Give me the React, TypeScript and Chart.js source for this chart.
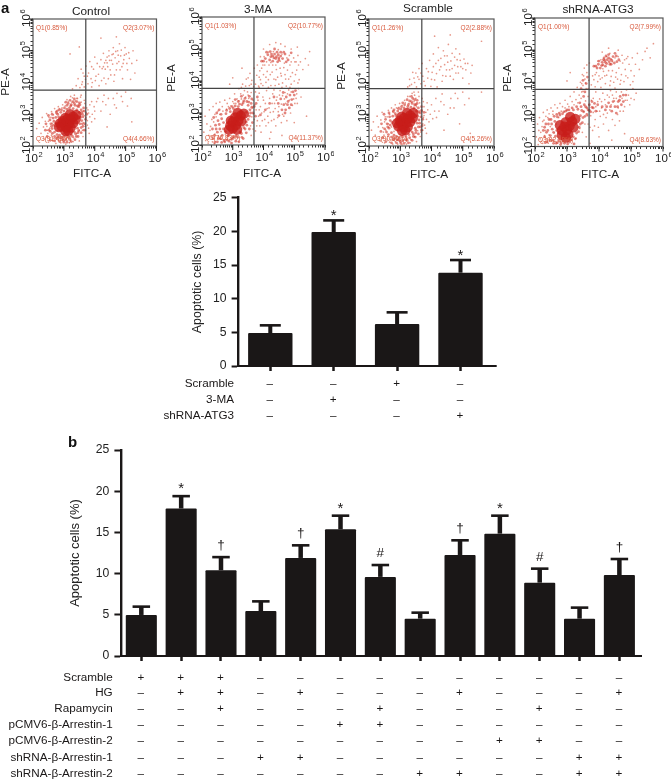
import React, { useEffect, useRef } from "react";
import { Chart, registerables } from "chart.js";

Chart.register(...registerables);

type Pt = [number, number];

// Flow cytometry events, read by eye as log10 decades [FITC-A, PE-A].
const controlCore: Pt[] = [[2.92,2.62],[3.0,2.72],[3.08,2.58],[3.16,2.7],[3.22,2.84],[3.3,2.92],[3.12,2.86],[3.04,2.88],[2.96,2.78],[3.22,2.58],[3.3,2.72],[3.38,2.84],[3.14,2.48],[2.88,2.72],[3.4,2.98],[3.2,3.0],[3.05,2.47],[2.84,2.6]];
const controlDense: Pt[] = [[2.62,2.55],[2.68,2.78],[2.7,2.44],[2.74,2.9],[2.66,2.66],[2.78,2.36],[2.8,3.0],[2.86,2.34],[2.9,3.06],[2.94,2.28],[3.0,3.1],[3.02,2.3],[3.1,3.16],[3.12,2.3],[3.18,3.2],[3.24,2.36],[3.3,3.18],[3.34,2.44],[3.42,3.14],[3.44,2.56],[3.5,3.06],[3.52,2.7],[3.54,2.9],[3.48,3.24],[3.58,2.8],[3.56,3.14],[3.36,3.28],[3.46,2.42],[3.6,3.0],[3.24,3.3],[2.58,2.7],[2.56,2.46],[2.76,2.24],[2.98,2.18],[3.2,2.2],[3.4,2.3],[3.62,2.62],[3.64,3.2],[3.5,3.36],[3.3,3.4],[3.14,3.34],[2.84,3.14]];
const controlHalo: Pt[] = [[2.52,2.5],[2.55,2.82],[2.6,2.62],[2.63,2.4],[2.65,2.88],[2.7,2.3],[2.73,2.72],[2.76,3.04],[2.8,2.28],[2.83,2.92],[2.87,2.26],[2.92,3.14],[2.96,2.22],[3.02,3.2],[3.06,2.2],[3.1,3.28],[3.16,2.26],[3.22,3.26],[3.28,2.3],[3.34,3.34],[3.38,2.38],[3.44,3.26],[3.48,2.48],[3.52,3.3],[3.56,2.58],[3.58,3.06],[3.6,2.7],[3.62,2.92],[3.66,3.1],[3.68,2.7],[3.7,2.84],[3.74,3.0],[2.4,2.5],[2.42,2.7],[2.46,2.3],[2.5,2.96],[2.56,2.18],[2.62,3.0],[2.7,2.16],[2.78,3.1],[2.86,2.14],[3.0,2.12],[3.1,2.12],[3.24,2.14],[3.36,2.2],[3.46,2.3],[3.56,2.42],[3.66,2.5],[3.42,3.4],[3.34,3.48],[3.2,3.44],[3.06,3.38]];
const controlSparse: Pt[] = [[2.12,2.55],[2.2,2.72],[2.26,2.4],[2.3,2.9],[2.34,2.6],[2.38,2.22],[2.4,2.78],[2.44,3.02],[2.46,2.5],[2.5,2.12],[2.52,2.9],[2.56,2.26],[2.6,3.08],[2.64,2.16],[2.7,3.18],[2.74,2.08],[2.82,3.24],[2.9,2.1],[2.96,3.3],[3.06,2.06],[3.1,3.46],[3.18,2.1],[3.22,3.56],[3.3,2.14],[3.34,3.6],[3.42,3.5],[3.5,2.16],[3.56,3.6],[3.62,2.3],[3.66,3.44],[3.7,2.5],[3.72,2.9],[3.74,3.2],[3.76,2.66],[3.8,3.04],[3.82,2.4],[3.84,3.3],[3.9,2.76],[3.92,3.0],[3.98,3.24],[4.0,2.86],[4.1,3.5],[4.2,3.1],[4.3,3.6],[4.36,3.3],[4.5,3.0],[4.6,3.5],[4.7,3.2],[4.72,3.66],[4.9,3.4],[5.0,3.7],[5.18,3.5],[5.2,2.76],[4.4,2.6],[3.28,3.8],[3.4,3.9],[3.46,4.12],[3.52,3.84],[3.6,4.02],[3.62,4.3],[3.66,3.86],[3.56,4.42],[3.7,4.1],[3.72,4.52],[3.78,3.96],[3.8,4.3],[3.84,4.66],[3.88,4.12],[3.9,3.86],[3.96,4.42],[4.0,4.8],[4.02,4.06],[4.08,4.6],[4.12,4.26],[4.14,3.9],[4.2,4.72],[4.24,4.44],[4.28,4.92],[4.3,4.14],[4.32,4.62],[4.36,3.96],[4.4,4.8],[4.42,4.5],[4.46,5.0],[4.48,4.7],[4.52,4.24],[4.56,4.88],[4.58,4.58],[4.6,5.1],[4.62,4.04],[4.66,4.78],[4.7,4.4],[4.74,5.0],[4.78,4.66],[4.8,5.22],[4.84,4.84],[4.88,4.5],[4.9,4.12],[4.94,4.72],[4.98,5.1],[5.02,4.9],[5.06,4.4],[5.12,4.76],[5.16,4.1],[5.2,4.6],[5.24,5.0],[5.3,4.3],[5.36,4.7],[4.2,5.4],[4.7,5.44],[3.2,4.9],[3.5,5.12]];
const controlExtra: Pt[] = [[2.45,2.62],[2.48,2.4],[2.5,2.78],[2.54,2.56],[2.58,2.9],[2.6,2.34],[2.62,2.72],[2.66,2.98],[2.68,2.24],[2.72,2.62],[2.74,3.08],[2.78,2.48],[2.82,2.18],[2.86,3.18],[2.9,2.24],[2.94,3.2],[2.98,2.38],[3.04,3.26],[3.08,2.24],[3.14,3.4],[3.2,2.3],[3.26,3.38],[3.32,2.26],[3.38,3.42],[3.42,2.4],[3.48,3.3],[3.5,2.5],[3.56,3.38],[3.6,2.5],[3.62,3.1],[3.64,2.74],[3.66,2.96],[3.68,3.34],[3.7,2.62],[3.72,3.06],[3.76,2.8],[3.78,3.14],[3.8,2.56],[3.84,2.92],[3.44,3.5],[3.54,3.54],[3.28,3.52],[3.9,4.5],[4.04,4.2],[4.16,4.5],[4.22,4.06],[4.34,4.42],[4.4,4.62],[4.44,4.12],[4.5,4.4],[4.54,4.7],[4.6,4.9],[4.64,4.24],[4.68,4.98],[4.72,4.6],[4.76,4.86],[4.82,4.4],[4.86,5.02],[4.92,4.6],[4.96,4.86],[5.04,4.6],[5.1,4.94],[4.46,4.84],[4.36,4.7],[4.28,4.5],[3.92,4.0],[3.76,4.2],[3.58,3.94],[3.66,4.2],[4.06,3.4],[4.26,3.4],[4.44,3.5],[4.64,3.3],[4.86,3.56],[5.06,3.26],[4.0,3.1],[3.9,3.4]];

const maCore: Pt[] = [[2.92,2.6],[3.0,2.72],[3.1,2.62],[3.18,2.76],[3.26,2.92],[3.08,2.86],[3.0,2.52],[3.28,2.74],[3.36,2.98],[3.16,3.0],[3.14,2.48],[2.88,2.48],[2.94,2.76]];
const maDense: Pt[] = [[2.5,2.4],[2.56,2.64],[2.6,2.2],[2.64,2.82],[2.7,2.5],[2.72,2.14],[2.78,2.98],[2.84,2.28],[2.88,2.12],[2.92,3.04],[3.0,2.22],[3.02,3.14],[3.12,2.3],[3.18,3.2],[3.24,2.4],[3.3,3.26],[3.36,2.54],[3.44,2.72],[3.5,3.24],[3.54,2.9],[3.56,3.1],[3.46,3.36],[3.36,3.38],[2.44,2.62],[2.5,2.1],[3.1,2.12],[3.3,2.24],[3.6,3.3],[4.06,4.7],[4.14,4.82],[4.2,4.66],[4.22,4.92],[4.3,4.62],[4.36,5.0],[4.46,4.6],[4.56,4.9],[4.62,4.7],[4.7,4.84],[4.8,4.66],[3.94,4.62],[4.74,3.5],[4.8,3.36],[4.66,3.26],[4.86,3.56],[4.92,3.42],[4.6,3.1],[4.56,3.44],[4.96,3.66],[5.0,3.56],[4.72,3.1],[4.5,2.92],[4.84,3.16],[4.3,4.78],[4.36,4.84],[4.42,4.76],[4.48,4.82],[4.4,4.7],[4.34,4.72],[4.5,4.72],[4.26,4.84],[4.44,4.9],[4.56,4.78]];
const maHalo: Pt[] = [[2.4,2.3],[2.46,2.5],[2.52,2.76],[2.54,2.2],[2.58,2.5],[2.62,2.96],[2.66,2.3],[2.7,2.7],[2.74,2.1],[2.76,2.42],[2.8,3.08],[2.82,2.16],[2.86,2.3],[2.9,3.14],[2.96,2.18],[2.98,3.2],[3.04,2.26],[3.08,3.22],[3.16,2.24],[3.22,3.28],[3.28,2.36],[3.34,3.32],[3.4,2.5],[3.44,3.02],[3.46,2.62],[3.5,2.8],[3.52,3.34],[3.58,3.0],[3.62,3.18],[3.64,2.7],[3.66,3.0],[3.7,3.2],[2.34,2.5],[2.36,2.2],[2.42,2.08],[2.38,2.86],[2.48,3.0],[2.56,3.1],[2.64,2.08],[2.96,2.06],[3.2,2.1],[3.34,2.2],[3.44,2.38],[3.54,2.5],[3.4,3.46],[3.28,3.52],[3.18,3.36],[3.08,3.42],[3.54,3.52],[3.62,3.44],[3.76,3.3],[3.8,3.5],[3.74,2.9],[3.9,2.94],[4.06,3.1],[4.2,3.3],[4.34,3.5],[4.48,3.3],[4.7,3.0],[4.78,3.26],[4.64,3.64],[4.9,3.26],[5.04,3.7],[4.1,4.9],[4.24,4.76],[4.5,4.66],[4.66,4.9],[4.74,4.6],[4.9,4.88],[4.0,4.62]];
const maSparse: Pt[] = [[2.06,2.4],[2.1,2.9],[2.12,2.14],[2.16,2.66],[2.2,2.06],[2.24,3.1],[2.26,2.46],[2.3,2.26],[2.32,2.8],[2.36,3.2],[2.4,2.04],[2.42,2.96],[2.46,3.3],[2.52,3.06],[2.58,3.34],[2.66,3.2],[2.74,3.4],[2.82,3.3],[2.9,3.46],[3.0,3.36],[3.06,3.6],[3.14,3.44],[3.2,3.76],[3.26,3.6],[3.32,3.9],[3.38,3.7],[3.44,4.06],[3.5,3.56],[3.54,3.86],[3.56,4.24],[3.6,3.64],[3.62,4.02],[3.66,3.4],[3.68,3.82],[3.7,4.4],[3.66,2.5],[3.6,2.3],[3.7,2.8],[3.76,3.1],[3.78,2.6],[3.82,3.4],[3.84,2.9],[3.86,3.62],[3.9,3.2],[3.92,2.4],[3.96,2.76],[3.98,3.5],[4.02,3.04],[4.06,3.3],[4.08,2.6],[4.1,3.7],[4.14,2.9],[4.18,3.16],[4.2,3.46],[4.24,2.4],[4.26,2.76],[4.3,3.6],[4.32,3.04],[4.36,3.3],[4.4,2.6],[4.44,3.5],[4.46,2.86],[4.5,3.2],[4.54,3.7],[4.58,2.7],[4.62,3.54],[4.66,2.9],[4.7,3.64],[4.76,2.76],[4.82,3.72],[4.88,3.0],[4.94,3.24],[5.02,3.3],[5.08,3.6],[5.14,3.76],[5.22,3.5],[4.2,2.2],[4.6,2.3],[5.0,2.7],[5.4,2.9],[3.74,3.9],[3.78,4.18],[3.8,4.5],[3.84,3.84],[3.88,4.32],[3.9,4.04],[3.94,4.4],[3.98,3.86],[4.0,4.2],[4.04,4.5],[4.08,3.96],[4.12,4.3],[4.16,4.04],[4.18,4.5],[4.24,3.86],[4.28,4.28],[4.3,4.5],[4.34,4.06],[4.38,3.86],[4.42,4.36],[4.46,4.12],[4.5,3.9],[4.54,4.4],[4.58,4.16],[4.62,3.94],[4.66,4.42],[4.7,4.2],[4.74,3.84],[4.78,4.34],[4.82,4.06],[4.86,4.5],[4.9,3.9],[4.94,4.26],[5.0,4.0],[5.02,4.6],[5.08,4.34],[5.12,4.8],[5.16,4.04],[5.2,4.6],[5.28,4.36],[5.36,4.7],[5.46,4.5],[4.0,5.0],[4.2,5.14],[4.4,5.2],[4.56,5.16],[4.7,5.08],[4.9,5.0],[5.1,5.06],[5.5,4.92],[3.3,4.4],[3.0,4.1],[2.9,3.9]];
const maExtra: Pt[] = [[2.22,2.3],[2.28,2.58],[2.34,2.1],[2.38,2.72],[2.42,2.34],[2.46,2.88],[2.54,2.26],[2.58,2.96],[2.62,2.42],[2.68,3.06],[2.76,2.34],[2.8,3.12],[2.86,3.2],[2.94,3.22],[3.04,3.3],[3.1,3.3],[3.2,3.38],[3.28,3.44],[3.34,3.56],[3.42,3.5],[3.48,3.66],[3.52,3.46],[3.58,2.6],[3.62,2.88],[3.64,3.16],[3.68,2.98],[3.72,3.26],[3.74,2.44],[3.8,2.76],[3.86,3.1],[3.88,2.6],[3.94,3.0],[4.0,3.4],[4.04,2.8],[4.12,3.14],[4.16,2.7],[4.22,3.02],[4.28,3.3],[4.34,2.8],[4.38,3.14],[4.42,3.4],[4.48,3.04],[4.52,3.56],[4.58,3.28],[4.62,2.96],[4.68,3.44],[4.72,3.3],[4.78,3.6],[4.84,3.4],[4.9,3.66],[4.98,3.44],[5.06,3.46],[5.1,3.3],[3.9,4.76],[3.98,4.5],[4.02,4.76],[4.1,4.6],[4.16,4.9],[4.24,4.58],[4.32,4.92],[4.4,4.5],[4.48,4.98],[4.54,4.62],[4.6,4.84],[4.68,4.56],[4.76,4.72],[4.84,4.8],[4.9,4.6],[4.98,4.72],[5.06,4.6],[5.14,4.5],[3.86,4.12],[3.92,3.92],[4.08,4.12],[4.22,4.2],[4.4,4.04],[4.56,4.24],[4.72,4.06],[4.88,4.14],[5.04,4.2],[5.12,3.94],[3.6,3.9],[3.5,4.1],[3.42,3.84],[3.28,3.8],[3.74,3.66],[3.86,3.8],[4.16,3.8],[4.34,3.72],[4.6,3.8],[4.86,3.8]];

const scrambleCore: Pt[] = [[2.94,2.62],[3.02,2.74],[3.1,2.6],[3.18,2.72],[3.24,2.86],[3.32,2.96],[3.12,2.88],[3.04,2.92],[2.98,2.8],[3.24,2.6],[3.32,2.76],[3.4,2.88],[3.16,2.5],[2.9,2.72],[3.42,3.04],[3.22,3.04],[3.06,2.48]];
const scrambleDense: Pt[] = [[2.64,2.56],[2.68,2.8],[2.72,2.42],[2.76,2.94],[2.68,2.66],[2.8,2.34],[2.84,3.02],[2.88,2.3],[2.92,3.1],[2.96,2.26],[3.02,3.16],[3.06,2.3],[3.12,3.2],[3.18,2.3],[3.24,3.24],[3.28,2.36],[3.34,3.22],[3.38,2.44],[3.44,3.2],[3.48,2.56],[3.52,3.1],[3.54,2.72],[3.56,2.94],[3.5,3.3],[3.6,2.82],[3.58,3.2],[3.38,3.34],[3.5,2.42],[3.64,3.04],[3.3,3.42],[2.58,2.7],[2.56,2.44],[2.78,2.2],[3.0,2.14],[3.22,2.18],[3.42,2.3],[3.64,2.6],[3.68,3.24],[3.54,3.44],[3.4,3.5]];
const scrambleHalo: Pt[] = [[2.5,2.54],[2.53,2.84],[2.6,2.6],[2.62,2.36],[2.66,2.92],[2.72,2.28],[2.74,2.74],[2.78,3.08],[2.82,2.24],[2.86,2.96],[2.9,2.2],[2.94,3.18],[2.98,2.18],[3.04,3.24],[3.08,2.16],[3.14,3.3],[3.18,2.2],[3.26,3.3],[3.3,2.26],[3.36,3.4],[3.42,2.38],[3.46,3.3],[3.5,2.5],[3.54,3.34],[3.58,2.6],[3.6,3.08],[3.62,2.72],[3.66,2.92],[3.68,3.12],[3.7,2.64],[3.72,2.84],[3.76,3.06],[2.38,2.46],[2.4,2.7],[2.44,2.26],[2.48,3.0],[2.54,2.14],[2.64,3.04],[2.72,2.1],[2.8,3.14],[2.88,2.1],[3.02,2.08],[3.12,2.08],[3.26,2.1],[3.38,2.18],[3.48,2.28],[3.58,2.38],[3.68,2.5],[3.46,3.46],[3.36,3.56],[3.22,3.46],[3.08,3.36]];
const scrambleSparse: Pt[] = [[2.08,2.5],[2.14,2.76],[2.2,2.34],[2.26,2.94],[2.3,2.6],[2.36,2.16],[2.38,2.82],[2.42,3.06],[2.46,2.44],[2.5,2.1],[2.52,2.92],[2.58,2.22],[2.62,3.12],[2.66,2.12],[2.72,3.2],[2.76,2.06],[2.84,3.3],[2.92,2.06],[2.98,3.34],[3.06,2.04],[3.14,3.44],[3.2,2.06],[3.24,3.56],[3.32,2.1],[3.38,3.66],[3.46,3.6],[3.52,2.14],[3.58,3.7],[3.64,2.3],[3.7,3.5],[3.72,2.5],[3.74,2.9],[3.76,3.24],[3.78,2.66],[3.82,3.06],[3.84,2.4],[3.86,3.36],[3.92,2.76],[3.96,3.0],[4.0,3.3],[4.04,2.86],[4.14,3.5],[4.24,3.1],[4.34,3.64],[4.4,3.3],[4.52,3.0],[4.62,3.5],[4.72,3.2],[4.76,3.66],[4.9,2.7],[5.0,3.7],[5.2,3.5],[5.24,2.4],[5.6,3.7],[4.4,2.5],[3.24,3.86],[3.3,4.1],[3.36,3.94],[3.4,4.32],[3.46,4.0],[3.52,3.86],[3.56,4.18],[3.6,4.44],[3.66,3.96],[3.7,4.6],[3.72,4.2],[3.8,3.9],[3.84,4.44],[3.88,4.14],[3.94,4.7],[3.98,3.88],[4.02,4.32],[4.06,4.9],[4.1,4.08],[4.14,4.6],[4.18,3.86],[4.22,5.1],[4.26,4.4],[4.3,4.76],[4.34,4.04],[4.38,5.0],[4.42,4.56],[4.46,4.2],[4.5,4.84],[4.54,5.2],[4.58,4.4],[4.62,4.68],[4.66,4.92],[4.7,4.1],[4.74,4.54],[4.78,5.06],[4.82,4.72],[4.86,4.3],[4.9,4.9],[4.94,4.5],[5.0,4.14],[5.04,4.74],[5.1,4.4],[5.16,4.6],[5.2,3.96],[5.26,4.3],[5.3,4.54],[5.6,5.3],[4.6,5.5],[4.1,5.46]];
const scrambleExtra: Pt[] = [[2.44,2.58],[2.48,2.34],[2.5,2.76],[2.54,2.5],[2.58,2.92],[2.6,2.3],[2.62,2.7],[2.66,3.0],[2.7,2.2],[2.72,2.6],[2.76,3.1],[2.8,2.46],[2.84,2.14],[2.88,3.2],[2.92,2.2],[2.96,3.22],[3.0,2.36],[3.06,3.28],[3.1,2.2],[3.16,3.36],[3.22,2.24],[3.28,3.34],[3.34,2.2],[3.44,3.4],[3.46,2.3],[3.52,3.24],[3.56,2.48],[3.62,3.36],[3.66,2.44],[3.7,3.1],[3.72,2.7],[3.74,3.4],[3.76,2.96],[3.8,2.56],[3.84,2.84],[3.88,3.14],[3.3,3.56],[3.44,3.7],[3.5,3.5],[3.6,3.56],[3.3,3.9],[3.44,4.14],[3.5,4.3],[3.6,4.1],[3.66,4.3],[3.76,4.04],[3.9,4.34],[4.0,4.1],[4.06,4.5],[4.16,4.28],[4.22,4.7],[4.3,4.5],[4.36,4.22],[4.42,4.84],[4.48,4.4],[4.52,4.64],[4.6,4.2],[4.66,4.44],[4.74,4.8],[4.78,4.3],[4.84,4.5],[4.92,4.7],[5.0,4.44],[5.08,4.6],[4.1,3.1],[4.3,3.4],[4.6,3.2],[4.84,3.5],[4.16,2.9],[5.06,3.3]];

const atgCore: Pt[] = [[2.84,2.5],[2.92,2.62],[3.0,2.52],[3.08,2.64],[3.16,2.78],[2.96,2.76],[3.04,2.38],[3.2,2.6],[3.26,2.86],[3.1,2.92],[2.84,2.36],[2.96,2.28],[2.78,2.66]];
const atgDense: Pt[] = [[2.36,2.44],[2.42,2.7],[2.46,2.2],[2.5,2.84],[2.54,2.54],[2.58,2.1],[2.6,2.94],[2.64,2.32],[2.68,3.0],[2.7,2.12],[2.76,3.04],[2.8,2.06],[2.9,3.08],[3.0,3.14],[3.08,2.14],[3.16,3.2],[3.2,2.3],[3.3,3.24],[3.36,2.46],[3.42,2.7],[3.46,3.12],[3.5,2.9],[3.54,3.3],[3.4,3.36],[3.62,3.2],[2.3,2.6],[2.32,2.12],[3.22,2.08],[3.9,4.5],[3.98,4.56],[4.04,4.44],[4.1,4.62],[4.16,4.76],[4.2,4.5],[4.3,4.86],[4.38,4.56],[4.44,4.8],[4.5,4.9],[4.56,4.64],[3.84,4.5],[4.6,3.4],[4.5,3.24],[4.66,3.56],[4.7,3.3],[4.4,3.1],[4.76,3.6],[4.3,3.36],[4.54,3.04],[4.2,3.14],[3.78,3.22],[3.86,3.34],[3.7,3.12],[4.2,4.62],[4.26,4.7],[4.32,4.64],[4.36,4.72],[4.24,4.58],[4.3,4.76],[4.18,4.68],[4.12,4.54]];
const atgHalo: Pt[] = [[2.26,2.5],[2.3,2.3],[2.34,2.7],[2.38,2.14],[2.4,2.5],[2.44,2.84],[2.48,2.34],[2.52,2.7],[2.56,2.2],[2.58,2.44],[2.62,2.78],[2.66,2.1],[2.68,2.5],[2.7,2.92],[2.74,2.2],[2.78,2.98],[2.82,2.12],[2.86,3.02],[2.92,2.1],[2.96,3.1],[3.02,2.08],[3.06,3.14],[3.12,2.2],[3.2,3.14],[3.26,2.24],[3.3,2.42],[3.34,3.16],[3.38,2.6],[3.42,2.96],[3.44,3.24],[3.48,2.74],[3.52,3.08],[3.56,2.94],[3.58,3.24],[3.62,3.0],[3.66,3.14],[3.7,3.3],[3.74,3.08],[3.78,3.4],[3.82,3.2],[3.9,3.1],[3.96,3.3],[4.1,3.24],[4.24,3.24],[4.36,3.24],[4.44,3.4],[4.58,3.24],[4.64,3.44],[4.76,3.4],[4.84,3.6],[3.94,4.44],[4.0,4.66],[4.08,4.52],[4.14,4.7],[4.22,4.82],[4.34,4.56],[4.4,4.68],[4.48,4.6],[4.54,4.82],[4.62,4.7],[3.52,3.56],[3.56,3.7],[3.6,3.96],[3.64,4.16],[3.5,4.06],[3.44,3.8]];
const atgSparse: Pt[] = [[2.04,2.3],[2.08,2.7],[2.1,2.06],[2.14,2.9],[2.18,2.44],[2.2,2.16],[2.24,2.78],[2.26,3.06],[2.3,2.34],[2.34,2.94],[2.38,3.14],[2.44,3.02],[2.5,3.2],[2.56,3.1],[2.62,3.3],[2.7,3.2],[2.78,3.34],[2.86,3.24],[2.94,3.44],[3.02,3.32],[3.1,3.56],[3.16,3.4],[3.22,3.7],[3.28,3.46],[3.32,3.84],[3.38,3.6],[3.42,4.0],[3.46,3.7],[3.48,4.24],[3.5,3.9],[3.54,4.44],[3.56,4.1],[3.6,3.8],[3.62,4.3],[3.66,3.56],[3.68,4.06],[3.7,4.6],[3.6,2.3],[3.66,2.7],[3.72,2.1],[3.74,2.96],[3.8,2.5],[3.82,3.5],[3.88,2.84],[3.9,3.7],[3.94,3.1],[3.98,2.6],[4.02,3.48],[4.04,2.94],[4.08,3.2],[4.12,3.66],[4.14,2.7],[4.18,3.46],[4.22,2.9],[4.26,3.6],[4.3,2.5],[4.34,3.14],[4.36,3.74],[4.42,2.84],[4.46,3.5],[4.5,2.66],[4.54,3.7],[4.58,3.0],[4.64,2.8],[4.7,3.7],[4.76,3.1],[4.82,3.44],[4.86,3.76],[4.92,3.6],[5.0,3.5],[5.06,3.8],[5.16,3.66],[4.0,2.3],[4.4,2.2],[4.8,2.4],[3.76,3.92],[3.8,4.2],[3.84,4.08],[3.88,3.86],[3.92,4.3],[3.96,4.02],[4.0,4.2],[4.06,3.84],[4.1,4.14],[4.14,4.34],[4.2,3.96],[4.24,4.22],[4.3,4.36],[4.34,3.9],[4.38,4.18],[4.42,4.36],[4.46,4.0],[4.5,3.82],[4.54,4.3],[4.58,4.1],[4.62,4.44],[4.66,3.94],[4.7,4.24],[4.74,4.6],[4.78,4.02],[4.82,4.4],[4.86,4.74],[4.9,4.14],[4.94,4.56],[4.98,3.92],[5.0,4.36],[5.04,4.76],[5.1,4.2],[5.14,4.56],[5.2,4.9],[5.26,4.4],[5.36,4.7],[5.44,4.96],[5.5,5.06],[5.6,4.76],[5.7,5.2],[3.0,4.04],[3.1,4.3],[4.6,5.0],[4.3,5.06],[4.1,4.94]];
const atgExtra: Pt[] = [[2.12,2.5],[2.16,2.24],[2.22,2.62],[2.24,2.1],[2.28,2.82],[2.32,2.5],[2.36,2.24],[2.4,2.9],[2.44,2.36],[2.48,2.62],[2.52,2.18],[2.56,3.0],[2.6,2.42],[2.62,2.16],[2.66,2.7],[2.72,2.28],[2.74,2.9],[2.78,2.14],[2.82,3.1],[2.88,2.16],[2.94,3.2],[3.02,2.14],[3.06,3.24],[3.14,2.2],[3.22,3.3],[3.28,2.26],[3.34,3.36],[3.4,2.56],[3.44,3.5],[3.48,2.44],[3.52,3.1],[3.56,2.7],[3.58,3.42],[3.64,2.96],[3.68,3.3],[3.72,2.6],[3.76,3.44],[3.82,3.06],[3.86,2.64],[3.9,3.24],[3.96,3.4],[4.02,3.1],[4.08,3.4],[4.14,3.0],[4.2,3.3],[4.26,3.04],[4.32,3.54],[4.38,3.3],[4.42,3.6],[4.48,3.42],[4.54,3.5],[4.6,3.2],[4.66,3.1],[4.72,3.5],[4.8,3.24],[4.88,3.44],[4.96,3.3],[5.1,3.46],[3.46,3.96],[3.52,4.2],[3.58,3.98],[3.62,4.54],[3.66,3.8],[3.5,3.72],[3.96,4.66],[4.06,4.7],[4.12,4.42],[4.24,4.8],[4.34,4.9],[4.42,4.64],[4.5,4.76],[4.6,4.8],[4.66,4.66],[4.72,4.84],[4.8,4.7],[4.9,4.8],[3.88,4.24],[4.04,4.1],[4.18,4.2],[4.36,4.04],[4.52,4.16],[4.68,4.06],[4.84,4.2],[5.06,4.02]];

const flowPanelNames = ["Control", "3-MA", "Scramble", "shRNA-ATG3"];
const quadGateX = [3.71, 3.69, 3.69, 3.69];
const quadGateY = [3.76, 3.77, 3.81, 3.78];
const quadrantLabels = [
  ["Q1(0.85%)", "Q2(3.07%)", "Q3(91.42%)", "Q4(4.66%)"],
  ["Q1(1.03%)", "Q2(10.77%)", "Q3(76.83%)", "Q4(11.37%)"],
  ["Q1(1.26%)", "Q2(2.88%)", "Q3(90.60%)", "Q4(5.26%)"],
  ["Q1(1.00%)", "Q2(7.99%)", "Q3(82.38%)", "Q4(8.63%)"],
];
const flowCore = [controlCore, maCore, scrambleCore, atgCore];
const flowDense = [
  [...controlDense, ...controlHalo],
  [...maDense, ...maHalo],
  [...scrambleDense, ...scrambleHalo],
  [...atgDense, ...atgHalo],
];
const flowSparse = [
  [...controlSparse, ...controlExtra],
  [...maSparse, ...maExtra],
  [...scrambleSparse, ...scrambleExtra],
  [...atgSparse, ...atgExtra],
];
const decadeExponents = [2, 3, 4, 5, 6];

const groupsA = ["Control", "3-MA", "Scramble", "shRNA-ATG3"];
const valuesA = [4.9, 19.9, 6.24, 13.86];
const capsA = [6.04, 21.63, 7.97, 15.74];
const marksA = ["", "*", "", "*"];
const rowNamesA = ["Scramble", "3-MA", "shRNA-ATG3"];
const rowScrambleA = ["–", "–", "+", "–"];
const rowMaA = ["–", "+", "–", "–"];
const rowAtgA = ["–", "–", "–", "+"];

const groupsB = ["1", "2", "3", "4", "5", "6", "7", "8", "9", "10", "11", "12", "13"];
const valuesB = [4.98, 17.9, 10.4, 5.46, 11.9, 15.37, 9.6, 4.53, 12.26, 14.85, 8.9, 4.53, 9.83];
const capsB = [5.99, 19.4, 12.0, 6.63, 13.43, 17.03, 11.04, 5.26, 14.04, 17.03, 10.6, 5.87, 11.77];
const marksB = ["", "*", "†", "", "†", "*", "#", "", "†", "*", "#", "", "†"];
const rowNamesB = ["Scramble", "HG", "Rapamycin", "pCMV6-β-Arrestin-1", "pCMV6-β-Arrestin-2", "shRNA-β-Arrestin-1", "shRNA-β-Arrestin-2"];
const rowScrambleB = ["+", "+", "+", "–", "–", "–", "–", "–", "–", "–", "–", "–", "–"];
const rowHgB = ["–", "+", "+", "–", "+", "–", "–", "–", "+", "–", "–", "–", "+"];
const rowRapaB = ["–", "–", "+", "–", "–", "–", "+", "–", "–", "–", "+", "–", "–"];
const rowOe1B = ["–", "–", "–", "–", "–", "+", "+", "–", "–", "–", "–", "–", "–"];
const rowOe2B = ["–", "–", "–", "–", "–", "–", "–", "–", "–", "+", "+", "–", "–"];
const rowSh1B = ["–", "–", "–", "+", "+", "–", "–", "–", "–", "–", "–", "+", "+"];
const rowSh2B = ["–", "–", "–", "–", "–", "–", "–", "+", "+", "–", "–", "+", "+"];

const FONT = '"Liberation Sans", Arial, sans-serif';
const INK = "#1a1717";

type FlowLayout = { cl: number; w: number; box: [number, number, number, number]; title: [number, number]; fitc: [number, number]; pe: [number, number] };
const flowLayouts: FlowLayout[] = [
  { cl: 0, w: 168, box: [33, 19, 156.5, 146], title: [91, 12], fitc: [92, 174], pe: [6, 82] },
  { cl: 166, w: 168, box: [202, 17, 325, 145], title: [258, 9.5], fitc: [262, 174], pe: [172, 78] },
  { cl: 336, w: 168, box: [369, 19, 494, 146], title: [428, 9], fitc: [429, 175], pe: [342, 76] },
  { cl: 502, w: 169, box: [535, 18, 663, 146.5], title: [598, 10], fitc: [600, 175], pe: [508, 78] },
];
const FLOW_H = 185;

function drawPower(ctx: CanvasRenderingContext2D, x: number, y: number, exp: number, vertical: boolean) {
  ctx.save();
  ctx.translate(x, y);
  if (vertical) ctx.rotate(-Math.PI / 2);
  ctx.fillStyle = "#222";
  ctx.textBaseline = "alphabetic";
  ctx.textAlign = "center";
  ctx.font = `11.5px ${FONT}`;
  ctx.fillText("10", -2.5, 4.5);
  ctx.font = `7.5px ${FONT}`;
  ctx.fillText(String(exp), 6.5, -0.5);
  ctx.restore();
}

function flowChart(canvas: HTMLCanvasElement, i: number) {
  const L = flowLayouts[i];
  const [l, t, r, b] = L.box;
  const toXY = (p: Pt) => ({ x: Math.pow(10, p[0]), y: Math.pow(10, p[1]) });
  const overlay = {
    id: "flowOverlay",
    afterDraw(chart: any) {
      const { ctx, scales, chartArea: a } = chart;
      const x = scales.x, y = scales.y;
      ctx.save();
      ctx.strokeStyle = "#555";
      ctx.lineWidth = 1.2;
      ctx.strokeRect(a.left, a.top, a.right - a.left, a.bottom - a.top);
      const gx = x.getPixelForValue(Math.pow(10, quadGateX[i]));
      const gy = y.getPixelForValue(Math.pow(10, quadGateY[i]));
      ctx.strokeStyle = "#444";
      ctx.beginPath();
      ctx.moveTo(gx, a.top); ctx.lineTo(gx, a.bottom);
      ctx.moveTo(a.left, gy); ctx.lineTo(a.right, gy);
      ctx.stroke();
      ctx.strokeStyle = "#222";
      ctx.lineWidth = 1;
      decadeExponents.forEach((e) => {
        const px = x.getPixelForValue(Math.pow(10, e));
        const py = y.getPixelForValue(Math.pow(10, e));
        ctx.beginPath();
        ctx.moveTo(px, a.bottom); ctx.lineTo(px, a.bottom + 5);
        ctx.moveTo(a.left, py); ctx.lineTo(a.left - 5, py);
        ctx.stroke();
        drawPower(ctx, px + 1, a.bottom + 11, e, false);
        drawPower(ctx, a.left - 8, py - 1, e, true);
      });
      const dx = L.cl;
      ctx.fillStyle = "#222";
      ctx.textAlign = "center";
      ctx.textBaseline = "middle";
      ctx.font = `11.8px ${FONT}`;
      ctx.fillText(flowPanelNames[i], L.title[0] - dx, L.title[1]);
      ctx.fillText("FITC-A", L.fitc[0] - dx, L.fitc[1]);
      ctx.save();
      ctx.translate(L.pe[0] - dx, L.pe[1]);
      ctx.rotate(-Math.PI / 2);
      ctx.fillText("PE-A", 0, 0);
      ctx.restore();
      ctx.font = `6.5px ${FONT}`;
      ctx.fillStyle = "#d8593c";
      const q = quadrantLabels[i];
      ctx.textAlign = "left";
      ctx.fillText(q[0], a.left + 3, a.top + 9.5);
      ctx.fillText(q[2], a.left + 3, a.bottom - 6.3);
      ctx.textAlign = "right";
      ctx.fillText(q[1], a.right - 2, a.top + 9.5);
      ctx.fillText(q[3], a.right - 2, a.bottom - 6.3);
      ctx.restore();
    },
  };
  return new Chart(canvas, {
    type: "scatter",
    data: {
      datasets: [
        { data: flowCore[i].map(toXY), pointRadius: 5.2, backgroundColor: "rgba(200,30,26,0.8)", borderWidth: 0 },
        { data: flowDense[i].map(toXY), pointRadius: 1.4, backgroundColor: "rgba(208,50,38,0.6)", borderWidth: 0 },
        { data: flowSparse[i].map(toXY), pointRadius: 0.85, backgroundColor: "rgba(216,88,66,0.62)", borderWidth: 0 },
      ],
    },
    options: {
      animation: false,
      responsive: false,
      events: [],
      layout: { padding: { top: t, right: L.w - (r - L.cl), bottom: 0, left: 0 } },
      plugins: { legend: { display: false }, tooltip: { enabled: false }, title: { display: false } },
      scales: {
        x: {
          type: "logarithmic", min: 100, max: 1000000,
          grid: { drawOnChartArea: false, tickLength: 2.5, tickColor: "#333" },
          border: { display: false },
          ticks: { display: false, autoSkip: false },
          afterFit: (s: any) => { s.height = FLOW_H - b; },
        },
        y: {
          type: "logarithmic", min: 100, max: 1000000,
          grid: { drawOnChartArea: false, tickLength: 2.5, tickColor: "#333" },
          border: { display: false },
          ticks: { display: false, autoSkip: false },
          afterFit: (s: any) => { s.width = l - L.cl; },
        },
      },
    } as any,
    plugins: [overlay],
  });
}

type BarSpec = {
  left: number; top: number; w: number; h: number;
  area: [number, number, number, number]; axisEnd: number;
  labels: string[]; values: number[]; caps: number[]; marks: string[];
  rowNames: string[]; rows: string[][]; rowY: number[]; rowRight: number;
  barPct: number; capW: number; stemW: number; tickLen: number; xTick: number;
  titleX: number; titleSize: number; markGap: number;
};

const barSpecs: BarSpec[] = [
  {
    left: 150, top: 185, w: 360, h: 245, area: [238.6, 197.7, 492.2, 366], axisEnd: 496.7,
    labels: groupsA, values: valuesA, caps: capsA, marks: marksA,
    rowNames: rowNamesA, rows: [rowScrambleA, rowMaA, rowAtgA], rowY: [384, 400, 415.7], rowRight: 234,
    barPct: 0.7, capW: 21, stemW: 4, tickLen: 7, xTick: 5, titleX: 197.7, titleSize: 12.4, markGap: 4,
  },
  {
    left: 0, top: 430, w: 671, h: 351, area: [121.4, 450, 639.3, 656], axisEnd: 642,
    labels: groupsB, values: valuesB, caps: capsB, marks: marksB,
    rowNames: rowNamesB, rows: [rowScrambleB, rowHgB, rowRapaB, rowOe1B, rowOe2B, rowSh1B, rowSh2B],
    rowY: [677.7, 693, 708.7, 724.3, 740.7, 757.3, 773.7], rowRight: 112.7,
    barPct: 0.78, capW: 17.5, stemW: 4.5, tickLen: 7, xTick: 5, titleX: 75, titleSize: 13, markGap: 7,
  },
];

function barChart(canvas: HTMLCanvasElement, S: BarSpec) {
  const [l, t, r, b] = S.area;
  const overlay = {
    id: "barOverlay",
    afterDatasetsDraw(chart: any) {
      const { ctx, scales, chartArea: a } = chart;
      const meta = chart.getDatasetMeta(0);
      ctx.save();
      ctx.strokeStyle = INK;
      ctx.fillStyle = INK;
      ctx.lineWidth = 2;
      ctx.beginPath();
      ctx.moveTo(a.right, a.bottom); ctx.lineTo(S.axisEnd - S.left, a.bottom);
      ctx.stroke();
      S.values.forEach((v, i) => {
        const x = meta.data[i].x;
        const yCap = scales.y.getPixelForValue(S.caps[i]);
        const yTop = scales.y.getPixelForValue(v);
        ctx.fillRect(x - S.stemW / 2, yCap, S.stemW, yTop - yCap);
        ctx.fillRect(x - S.capW / 2, yCap - 1.3, S.capW, 2.6);
        if (S.marks[i]) {
          const star = S.marks[i] === "*";
          ctx.font = `${star ? 15 : 13.5}px ${FONT}`;
          ctx.textAlign = "center";
          ctx.textBaseline = "alphabetic";
          ctx.fillText(S.marks[i], x, yCap - S.markGap + (star ? 4 : -1));
        }
      });
      ctx.font = `11.7px ${FONT}`;
      ctx.textBaseline = "middle";
      S.rowNames.forEach((name, k) => {
        ctx.textAlign = "right";
        ctx.fillText(name, S.rowRight - S.left, S.rowY[k] - S.top);
        ctx.textAlign = "center";
        S.rows[k].forEach((sym, i) => ctx.fillText(sym, meta.data[i].x - 0.5, S.rowY[k] - S.top));
      });
      ctx.restore();
    },
  };
  return new Chart(canvas, {
    type: "bar",
    data: {
      labels: S.labels,
      datasets: [{
        data: S.values, backgroundColor: INK, borderWidth: 0, borderRadius: 1,
        barPercentage: S.barPct, categoryPercentage: 1,
      }],
    },
    options: {
      animation: false,
      responsive: false,
      events: [],
      layout: { padding: { top: t - S.top, right: S.left + S.w - r, bottom: 0, left: 0 } },
      plugins: { legend: { display: false }, tooltip: { enabled: false } },
      scales: {
        x: {
          type: "category",
          grid: { offset: false, drawOnChartArea: false, drawTicks: true, tickLength: S.xTick, tickColor: INK, tickWidth: 2.5 },
          border: { display: true, color: INK, width: 2 },
          ticks: { display: false },
          afterFit: (s: any) => { s.height = S.top + S.h - b; },
        },
        y: {
          min: 0, max: 25,
          afterBuildTicks: (s: any) => { s.ticks = [0, 5, 10, 15, 20, 25].map((value) => ({ value })); },
          grid: { drawOnChartArea: false, tickLength: S.tickLen, tickColor: INK, tickWidth: 2 },
          border: { display: true, color: INK, width: 2.4 },
          ticks: { color: "#222", font: { family: FONT, size: 12.2 }, padding: 5 },
          title: {
            display: true, text: "Apoptotic cells (%)", color: "#222",
            font: { family: FONT, size: S.titleSize },
            padding: { top: S.titleX - S.left - S.titleSize * 0.6, bottom: 0 },
          },
          afterFit: (s: any) => { s.width = l - S.left; },
        },
      },
    } as any,
    plugins: [overlay],
  });
}

const letterStyle = (x: number, y: number): React.CSSProperties => ({
  position: "absolute", left: x, top: y, font: `bold 15px ${FONT}`, color: "#111", lineHeight: "15px",
});

export default function App() {
  const flowRefs = useRef<(HTMLCanvasElement | null)[]>([]);
  const barRefs = useRef<(HTMLCanvasElement | null)[]>([]);
  useEffect(() => {
    const charts = [
      ...flowLayouts.map((_, i) => flowChart(flowRefs.current[i]!, i)),
      ...barSpecs.map((S, i) => barChart(barRefs.current[i]!, S)),
    ];
    return () => charts.forEach((c) => c.destroy());
  }, []);
  return (
    <div style={{ position: "fixed", left: 0, top: 0, width: 671, height: 781, overflow: "hidden", background: "#fff" }}>
      {flowLayouts.map((L, i) => (
        <canvas key={i} ref={(el) => { flowRefs.current[i] = el; }} width={L.w} height={FLOW_H}
          style={{ position: "absolute", left: L.cl, top: 0, width: L.w, height: FLOW_H }} />
      ))}
      {barSpecs.map((S, i) => (
        <canvas key={i} ref={(el) => { barRefs.current[i] = el; }} width={S.w} height={S.h}
          style={{ position: "absolute", left: S.left, top: S.top, width: S.w, height: S.h }} />
      ))}
      <div style={letterStyle(1, 0)}>a</div>
      <div style={letterStyle(68, 434)}>b</div>
    </div>
  );
}
